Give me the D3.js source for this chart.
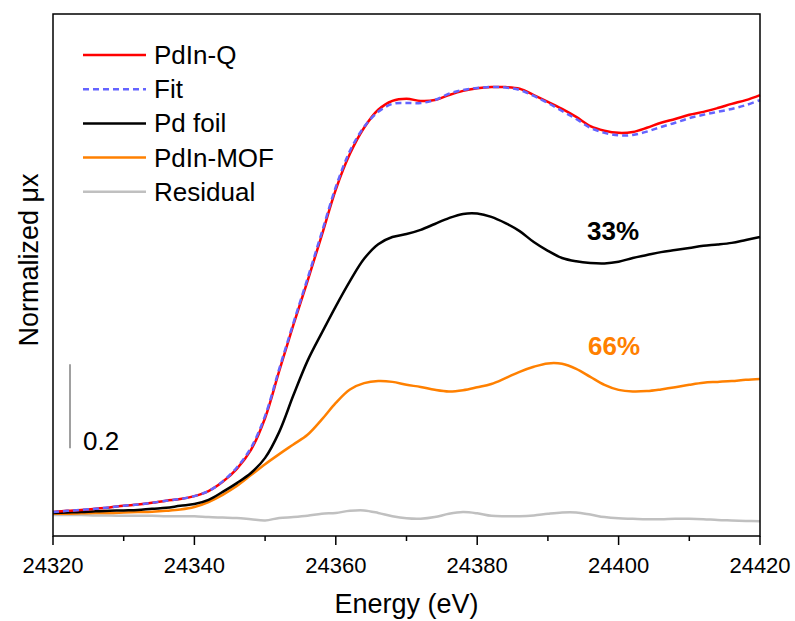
<!DOCTYPE html>
<html>

<head>
    <meta charset="UTF-8">
    <title>Pd K-edge XANES</title>
    <script src="https://d3js.org/d3.v7.min.js"></script>
    <style>
        body { margin: 0; background: white; }
        text { font-family: Arial, "Liberation Sans", sans-serif; fill: black; }
        .tick-label { font-size: 22px; }
        .title { font-size: 27px; }
        .legend-text { font-size: 26px; }
        .series { fill: none; stroke-width: 2.5; stroke-linejoin: round; }
    </style>
</head>

<body>
    <script>
        // energy grid (eV)
        var energy = [24320, 24322, 24324, 24326, 24328, 24330, 24332, 24334, 24336, 24338,
            24340, 24342, 24344, 24346, 24348, 24350, 24352, 24354, 24356, 24358,
            24360, 24362, 24364, 24366, 24368, 24370, 24372, 24374, 24376, 24378,
            24380, 24382, 24384, 24386, 24388, 24390, 24392, 24394, 24396, 24398,
            24400, 24402, 24404, 24406, 24408, 24410, 24412, 24414, 24416, 24418, 24420];

        // normalized mu(x), curves offset for display
        var pdinQ = [0.002, 0.005, 0.007, 0.010, 0.013, 0.017, 0.020, 0.024, 0.029, 0.033,
            0.040, 0.052, 0.074, 0.105, 0.150, 0.226, 0.338, 0.448, 0.552, 0.660,
            0.770, 0.855, 0.917, 0.960, 0.981, 0.986, 0.981, 0.983, 0.995, 1.005,
            1.011, 1.014, 1.014, 1.010, 0.995, 0.979, 0.962, 0.943, 0.921, 0.910,
            0.905, 0.907, 0.917, 0.929, 0.938, 0.948, 0.955, 0.964, 0.974, 0.983, 0.995];

        var fit = [0.002, 0.005, 0.007, 0.010, 0.013, 0.017, 0.020, 0.024, 0.029, 0.033,
            0.040, 0.052, 0.075, 0.108, 0.155, 0.231, 0.343, 0.452, 0.558, 0.667,
            0.776, 0.862, 0.919, 0.955, 0.974, 0.976, 0.976, 0.983, 0.998, 1.007,
            1.012, 1.014, 1.013, 1.007, 0.993, 0.976, 0.957, 0.938, 0.917, 0.905,
            0.899, 0.900, 0.908, 0.919, 0.929, 0.940, 0.948, 0.955, 0.962, 0.971, 0.983];

        var pdFoil = [0.000, 0.001, 0.002, 0.004, 0.005, 0.006, 0.007, 0.010, 0.012, 0.017,
            0.021, 0.031, 0.050, 0.071, 0.095, 0.131, 0.193, 0.280, 0.362, 0.428,
            0.492, 0.552, 0.605, 0.640, 0.657, 0.664, 0.674, 0.688, 0.702, 0.712,
            0.713, 0.705, 0.690, 0.671, 0.645, 0.624, 0.607, 0.599, 0.595, 0.594,
            0.598, 0.607, 0.614, 0.621, 0.626, 0.631, 0.636, 0.639, 0.643, 0.650, 0.657];

        var pdinMOF = [-0.002, -0.002, -0.001, 0.000, 0.000, 0.001, 0.002, 0.003, 0.005, 0.008,
            0.014, 0.026, 0.043, 0.064, 0.090, 0.116, 0.140, 0.163, 0.186, 0.222,
            0.262, 0.294, 0.309, 0.314, 0.312, 0.305, 0.300, 0.293, 0.289, 0.292,
            0.299, 0.307, 0.321, 0.336, 0.348, 0.356, 0.355, 0.343, 0.324, 0.305,
            0.293, 0.289, 0.290, 0.294, 0.299, 0.305, 0.310, 0.312, 0.314, 0.317, 0.319];

        var residual = [-0.005, -0.005, -0.005, -0.006, -0.006, -0.007, -0.007, -0.007, -0.008, -0.008,
            -0.008, -0.010, -0.011, -0.012, -0.015, -0.018, -0.012, -0.010, -0.007, -0.002,
            0.000, 0.005, 0.006, 0.000, -0.008, -0.013, -0.014, -0.010, -0.002, 0.002,
            -0.001, -0.007, -0.008, -0.008, -0.006, -0.002, 0.001, 0.001, -0.004, -0.010,
            -0.013, -0.014, -0.015, -0.015, -0.014, -0.014, -0.015, -0.017, -0.018, -0.019, -0.020];

        var seriesNames = ["PdIn-Q", "Fit", "Pd foil", "PdIn-MOF", "Residual"];
        var seriesColors = ["#ff0000", "#6464ff", "#000000", "#ff8000", "#c0c0c0"];
        var seriesData = [pdinQ, fit, pdFoil, pdinMOF, residual];
        var xTicks = [24320, 24340, 24360, 24380, 24400, 24420];
        var xMinorTicks = [24330, 24350, 24370, 24390, 24410];

        var svg = d3.select("body").append("svg")
            .attr("width", 795).attr("height", 621);

        var x = d3.scaleLinear().domain([24320, 24420]).range([53, 760]);
        var y = d3.scaleLinear().domain([-0.055, 1.188]).range([536, 14]);

        var line = d3.line()
            .x(function (d) { return x(d[0]); })
            .y(function (d) { return y(d[1]); })
            .curve(d3.curveCatmullRom.alpha(0.5));

        // draw order: residual, MOF, foil, Q, fit on top
        var order = [4, 3, 2, 0, 1];
        order.forEach(function (i) {
            var pts = energy.map(function (e, k) { return [e, seriesData[i][k]]; });
            svg.append("path")
                .attr("class", "series")
                .attr("d", line(pts))
                .attr("stroke", seriesColors[i])
                .attr("stroke-dasharray", i === 1 ? "6,4" : null);
        });

        // frame
        svg.append("rect")
            .attr("x", 53).attr("y", 14).attr("width", 707).attr("height", 522)
            .attr("fill", "none").attr("stroke", "black").attr("stroke-width", 1.5);

        // x axis
        var xAxis = svg.append("g").attr("transform", "translate(0,536)");
        xAxis.selectAll(".major").data(xTicks).enter().append("line")
            .attr("x1", function (d) { return x(d); }).attr("x2", function (d) { return x(d); })
            .attr("y1", 0).attr("y2", 9)
            .attr("stroke", "black").attr("stroke-width", 1.5);
        xAxis.selectAll(".minor").data(xMinorTicks).enter().append("line")
            .attr("x1", function (d) { return x(d); }).attr("x2", function (d) { return x(d); })
            .attr("y1", 0).attr("y2", 5)
            .attr("stroke", "black").attr("stroke-width", 1.5);
        xAxis.selectAll("text").data(xTicks).enter().append("text")
            .attr("class", "tick-label")
            .attr("x", function (d) { return x(d); })
            .attr("y", 37)
            .attr("text-anchor", "middle")
            .text(function (d) { return d; });

        svg.append("text").attr("class", "title")
            .attr("x", x(24370)).attr("y", 613)
            .attr("text-anchor", "middle")
            .text("Energy (eV)");

        svg.append("text").attr("class", "title")
            .attr("transform", "translate(38,260) rotate(-90)")
            .attr("text-anchor", "middle")
            .text("Normalized \u03bcx");

        // scale bar 0.2
        svg.append("line")
            .attr("x1", 70).attr("x2", 70)
            .attr("y1", y(0.154)).attr("y2", y(0.154 + 0.2))
            .attr("stroke", "#808080").attr("stroke-width", 1.5);
        svg.append("text")
            .attr("x", 83).attr("y", 450)
            .style("font-size", "26px")
            .text("0.2");

        // fractions
        svg.append("text")
            .attr("x", 587).attr("y", 240)
            .style("font-size", "26px").style("font-weight", "bold")
            .text("33%");
        svg.append("text")
            .attr("x", 588).attr("y", 355)
            .style("font-size", "26px").style("font-weight", "bold")
            .style("fill", "#ff8000")
            .text("66%");

        // legend
        var legend = svg.append("g").selectAll("g")
            .data(seriesNames).enter().append("g")
            .attr("transform", function (d, i) { return "translate(0," + (55 + i * 34.2) + ")"; });
        legend.append("line")
            .attr("x1", 83).attr("x2", 146).attr("y1", 0).attr("y2", 0)
            .attr("stroke-width", 2.5)
            .attr("stroke", function (d, i) { return seriesColors[i]; })
            .attr("stroke-dasharray", function (d, i) { return i === 1 ? "6,4" : null; });
        legend.append("text")
            .attr("class", "legend-text")
            .attr("x", 154).attr("y", 9)
            .text(function (d) { return d; });
    </script>
</body>

</html>
